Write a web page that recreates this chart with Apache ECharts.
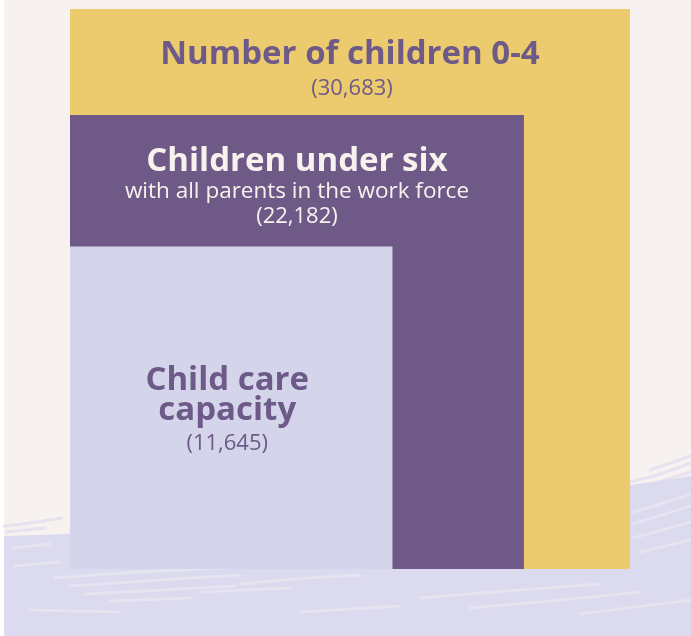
<!DOCTYPE html>
<html>
<head>
<meta charset="utf-8">
<script src="https://cdn.jsdelivr.net/npm/echarts@6/dist/echarts.min.js"></script>
<style>
  html, body { margin: 0; padding: 0; background: #ffffff; }
  #chart { width: 691px; height: 636px; }
</style>
</head>
<body>
<div id="chart"></div>
<script>
// Nested blocks: each square's side grows with its count.
const categories = ['Number of children 0-4', 'Children under six', 'Child care\ncapacity'];
const subtitles = ['', 'with all parents in the work force', ''];
const values = [30683, 22182, 11645];

// Sides use a linear scale starting below zero so the smallest block keeps room for its label.
const AXIS_MIN = -14200;
const AXIS_MAX = 30683;

const fills = ['#ecca6e', '#6f5a87', '#d4d5ea'];
const textColors = ['#6e5a88', '#f8f2ef', '#6e5a88'];
const TITLE_FONT = '"Open Sans", Lato, sans-serif';
const BODY_FONT = '"Open Sans", Lato, sans-serif';

function fmt(v) { return '(' + v.toLocaleString('en-US') + ')'; }

function renderItem(params, api) {
  const i = params.dataIndex;
  const v = api.value(0);
  const corner = api.coord([AXIS_MIN, AXIS_MIN]);
  const far = api.coord([v, v]);
  const x = corner[0], y = far[1];
  const w = far[0] - corner[0], h = corner[1] - far[1];
  const children = [{
    type: 'rect',
    shape: { x: x, y: y, width: w, height: h },
    style: { fill: fills[i] }
  }];
  const color = textColors[i];
  const title = (tx, ty, txt) => ({
    type: 'text',
    style: {
      text: txt, x: tx, y: ty, textAlign: 'center', textVerticalAlign: 'middle',
      fill: color, fontFamily: TITLE_FONT, fontWeight: 'bold', fontSize: 33, lineHeight: 30
    }
  });
  const small = (tx, ty, txt, size) => ({
    type: 'text',
    style: {
      text: txt, x: tx, y: ty, textAlign: 'center', textVerticalAlign: 'middle',
      fill: color, fontFamily: BODY_FONT, fontWeight: 'normal', fontSize: size
    }
  });
  const cx = x + w / 2;
  if (i < values.length - 1) {
    // Label sits in the band above the next block.
    const next = api.coord([values[i + 1], values[i + 1]]);
    const mid = (y + next[1]) / 2;
    if (subtitles[i]) {
      children.push(title(cx, mid - 19, categories[i]));
      children.push(small(cx, mid + 11, subtitles[i], 22.5));
      children.push(small(cx, mid + 36, fmt(v), 22));
    } else {
      children.push(title(cx, mid - 7, categories[i]));
      children.push(small(cx + 2, mid + 27, fmt(v), 22));
    }
  } else {
    const my = y + h / 2;
    children.push(title(cx - 4, my - 12, categories[i]));
    children.push(small(cx - 4, my + 36, fmt(v), 22));
  }
  return { type: 'group', children: children };
}

// Painted wash along the lower edge of the page.
function washOutline() {
  const p0 = [4, 536], c1 = [220, 530], c2 = [470, 510], p3 = [691, 476];
  const pts = [];
  for (let k = 0; k <= 40; k++) {
    const t = k / 40, u = 1 - t;
    pts.push([
      u * u * u * p0[0] + 3 * u * u * t * c1[0] + 3 * u * t * t * c2[0] + t * t * t * p3[0],
      u * u * u * p0[1] + 3 * u * u * t * c1[1] + 3 * u * t * t * c2[1] + t * t * t * p3[1]
    ]);
  }
  pts.push([691, 636], [4, 636]);
  return pts;
}
// Pale brush marks inside the wash.
const streaksLight = [
  [[55, 578], [140, 572], [225, 568]],
  [[70, 586], [160, 580], [240, 575]],
  [[85, 594], [180, 589], [235, 586]],
  [[110, 601], [190, 598]],
  [[240, 584], [310, 578], [360, 575]],
  [[200, 592], [290, 588]],
  [[12, 548], [50, 544]],
  [[15, 566], [60, 562]],
  [[633, 512], [660, 504], [691, 494]],
  [[633, 524], [691, 506]],
  [[633, 538], [691, 522]],
  [[640, 552], [691, 540]],
  [[420, 598], [520, 590], [600, 584]],
  [[470, 608], [560, 600], [640, 592]],
  [[300, 612], [400, 606]],
  [[580, 614], [691, 600]],
  [[30, 610], [120, 612]]
];
// Ragged brush marks along the upper edge of the wash.
const streaksDark = [
  [[4, 526], [30, 523], [62, 518]],
  [[6, 532], [45, 528]],
  [[630, 482], [660, 474], [691, 463]],
  [[632, 490], [691, 472]],
  [[650, 470], [691, 456]]
];

const graphic = [
  { type: 'rect', z: -20, shape: { x: 4, y: 0, width: 687, height: 636 }, style: { fill: '#f7f2f0' } },
  { type: 'polygon', z: -19, shape: { points: washOutline() }, style: { fill: '#dbdaee' } }
];
streaksLight.forEach(p => graphic.push({
  type: 'polyline', z: -18, shape: { points: p, smooth: 0.4 },
  style: { stroke: '#f2eff3', lineWidth: 3, opacity: 0.45, lineCap: 'round' }
}));
streaksDark.forEach(p => graphic.push({
  type: 'polyline', z: -18, shape: { points: p, smooth: 0.4 },
  style: { stroke: '#dedcef', lineWidth: 3, opacity: 0.7, lineCap: 'round' }
}));

const chart = echarts.init(document.getElementById('chart'), null, { renderer: 'canvas' });
chart.setOption({
  animation: false,
  backgroundColor: '#ffffff',
  graphic: graphic,
  grid: { left: 70, top: 9, width: 560, height: 560 },
  xAxis: { type: 'value', min: AXIS_MIN, max: AXIS_MAX, show: false },
  yAxis: { type: 'value', min: AXIS_MIN, max: AXIS_MAX, show: false },
  series: [{
    type: 'custom',
    renderItem: renderItem,
    data: values.map(v => [v, v]),
    encode: { x: 0, y: 1 },
    clip: false
  }]
});
</script>
</body>
</html>
